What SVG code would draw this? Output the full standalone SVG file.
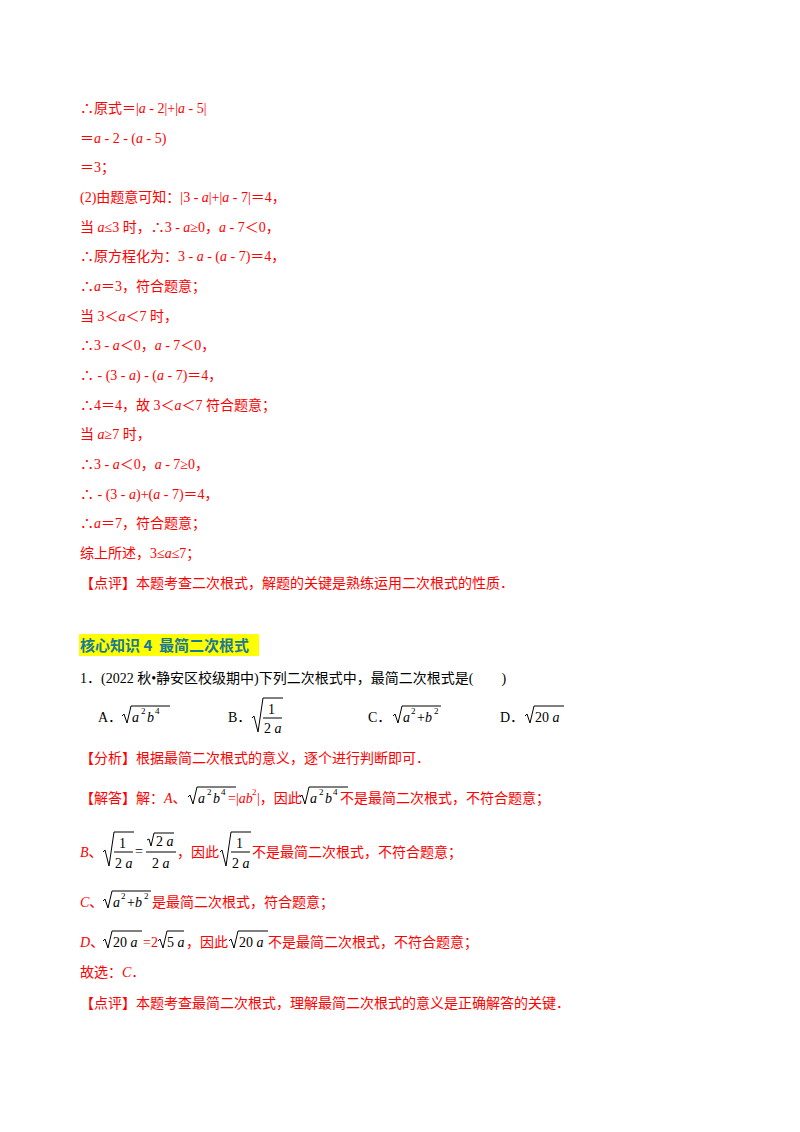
<svg xmlns="http://www.w3.org/2000/svg" width="800" height="1132" viewBox="0 0 800 1132">
<style>
text{font-family:"Liberation Serif","Noto Sans CJK SC",serif;font-size:14px;fill:#f00;white-space:pre}
.k{fill:#000}
.i{font-style:italic}
.s{font-size:9px}
.r{fill:none;stroke:#000;stroke-width:1}
.h{font-family:"Noto Sans CJK SC",sans-serif;font-weight:bold;font-size:15px;fill:#1a7a96}
</style>
<rect width="800" height="1132" fill="#fff"/>
<text x="80" y="113">∴原式＝|<tspan class="i">a</tspan> - 2|+|<tspan class="i">a</tspan> - 5|</text>
<text x="80" y="143">＝<tspan class="i">a</tspan> - 2 - (<tspan class="i">a</tspan> - 5)</text>
<text x="80" y="172">＝3；</text>
<text x="80" y="202">(2)由题意可知：|3 - <tspan class="i">a</tspan>|+|<tspan class="i">a</tspan> - 7|＝4，</text>
<text x="80" y="232">当 <tspan class="i">a</tspan>≤3 时，∴3 - <tspan class="i">a</tspan>≥0，<tspan class="i">a</tspan> - 7＜0，</text>
<text x="80" y="261">∴原方程化为：3 - <tspan class="i">a</tspan> - (<tspan class="i">a</tspan> - 7)＝4，</text>
<text x="80" y="291">∴<tspan class="i">a</tspan>＝3，符合题意；</text>
<text x="80" y="321">当 3＜<tspan class="i">a</tspan>＜7 时，</text>
<text x="80" y="350">∴3 - <tspan class="i">a</tspan>＜0，<tspan class="i">a</tspan> - 7＜0，</text>
<text x="80" y="380">∴ - (3 - <tspan class="i">a</tspan>) - (<tspan class="i">a</tspan> - 7)＝4，</text>
<text x="80" y="410">∴4＝4，故 3＜<tspan class="i">a</tspan>＜7 符合题意；</text>
<text x="80" y="439">当 <tspan class="i">a</tspan>≥7 时，</text>
<text x="80" y="469">∴3 - <tspan class="i">a</tspan>＜0，<tspan class="i">a</tspan> - 7≥0，</text>
<text x="80" y="499">∴ - (3 - <tspan class="i">a</tspan>)+(<tspan class="i">a</tspan> - 7)＝4，</text>
<text x="80" y="528">∴<tspan class="i">a</tspan>＝7，符合题意；</text>
<text x="80" y="558">综上所述，3≤<tspan class="i">a</tspan>≤7；</text>
<text x="80" y="588">【点评】本题考查二次根式，解题的关键是熟练运用二次根式的性质．</text>

<rect x="79" y="634" width="180" height="22" fill="#ffff00"/>
<text class="h" x="80" y="651">核心知识 4  最简二次根式</text>
<text class="k" x="80" y="683">1．(2022 秋•静安区校级期中)下列二次根式中，最简二次根式是(        )</text>

<g class="k">
<text class="k" x="98" y="722">A．</text>
<path class="r" d="M122,716 l2,-2 l3,9 l4,-17 h39"/>
<text class="k" x="132" y="722" font-size="15"><tspan class="i">a</tspan></text><text class="k s" x="141" y="714">2</text><text class="k i" x="147" y="722" font-size="15">b</text><text class="k s" x="155" y="714">4</text>
<text class="k" x="228" y="722">B．</text>
<path class="r" d="M252,718 l2,-2 l4,16 l5,-34 h20"/>
<text class="k" x="268" y="714">1</text><line class="r" x1="263" y1="718" x2="282" y2="718"/>
<text class="k" x="264" y="733">2 <tspan class="i">a</tspan></text>
<text class="k" x="368" y="722">C．</text>
<path class="r" d="M393,716 l2,-2 l3,9 l4,-17 h39"/>
<text class="k" x="403" y="722" font-size="15"><tspan class="i">a</tspan></text><text class="k s" x="411" y="714">2</text><text class="k" x="417" y="722" font-size="15">+<tspan class="i">b</tspan></text><text class="k s" x="434" y="714">2</text>
<text class="k" x="500" y="722">D．</text>
<path class="r" d="M525,716 l2,-2 l3,9 l4,-17 h30"/>
<text class="k" x="535" y="722" font-size="15">20 <tspan class="i">a</tspan></text>
</g>

<text x="80" y="763">【分析】根据最简二次根式的意义，逐个进行判断即可．</text>

<text x="80" y="803">【解答】解：<tspan class="i">A</tspan>、</text>
<path class="r" d="M188,797 l2,-2 l3,9 l4,-17 h39"/>
<text class="k" x="198" y="803" font-size="15"><tspan class="i">a</tspan></text><text class="k s" x="207" y="795">2</text><text class="k i" x="213" y="803" font-size="15">b</text><text class="k s" x="221" y="795">4</text>
<text x="228" y="803">=|<tspan class="i">ab</tspan></text><text class="s" x="252" y="795">2</text><text x="257" y="803">|，因此</text>
<path class="r" d="M300,797 l2,-2 l3,9 l4,-17 h39"/>
<text class="k" x="310" y="803" font-size="15"><tspan class="i">a</tspan></text><text class="k s" x="319" y="795">2</text><text class="k i" x="325" y="803" font-size="15">b</text><text class="k s" x="333" y="795">4</text>
<text x="340" y="803">不是最简二次根式，不符合题意；</text>

<text x="80" y="857"><tspan class="i">B</tspan>、</text>
<path class="r" d="M103,852 l2,-2 l4,16 l5,-34 h20"/>
<text class="k" x="119" y="848">1</text><line class="r" x1="114" y1="852" x2="133" y2="852"/>
<text class="k" x="115" y="868">2 <tspan class="i">a</tspan></text>
<text class="k" x="135" y="856">=</text>
<path class="r" d="M147,840 l2,-1 l2,7 l3,-13 h20"/>
<text class="k" x="156" y="846">2 <tspan class="i">a</tspan></text><line class="r" x1="146" y1="852" x2="176" y2="852"/>
<text class="k" x="152" y="868">2 <tspan class="i">a</tspan></text>
<text x="177" y="857">，因此</text>
<path class="r" d="M220,852 l2,-2 l4,16 l5,-34 h20"/>
<text class="k" x="236" y="848">1</text><line class="r" x1="231" y1="852" x2="250" y2="852"/>
<text class="k" x="232" y="868">2 <tspan class="i">a</tspan></text>
<text x="252" y="857">不是最简二次根式，不符合题意；</text>

<text x="80" y="907"><tspan class="i">C</tspan>、</text>
<path class="r" d="M103,901 l2,-2 l3,9 l4,-17 h39"/>
<text class="k" x="113" y="907" font-size="15"><tspan class="i">a</tspan></text><text class="k s" x="121" y="899">2</text><text class="k" x="127" y="907" font-size="15">+<tspan class="i">b</tspan></text><text class="k s" x="144" y="899">2</text>
<text x="152" y="907">是最简二次根式，符合题意；</text>

<text x="80" y="947"><tspan class="i">D</tspan>、</text>
<path class="r" d="M103,941 l2,-2 l3,9 l4,-17 h30"/>
<text class="k" x="113" y="947" font-size="15">20 <tspan class="i">a</tspan></text>
<text x="143" y="947">=2</text>
<path class="r" d="M158,941 l2,-2 l3,9 l4,-17 h17"/>
<text class="k" x="167" y="947" font-size="15">5 <tspan class="i">a</tspan></text>
<text x="186" y="947">，因此</text>
<path class="r" d="M229,941 l2,-2 l3,9 l4,-17 h30"/>
<text class="k" x="239" y="947" font-size="15">20 <tspan class="i">a</tspan></text>
<text x="268" y="947">不是最简二次根式，不符合题意；</text>

<text x="80" y="977">故选：<tspan class="i">C</tspan>．</text>
<text x="80" y="1008">【点评】本题考查最简二次根式，理解最简二次根式的意义是正确解答的关键．</text>
</svg>
